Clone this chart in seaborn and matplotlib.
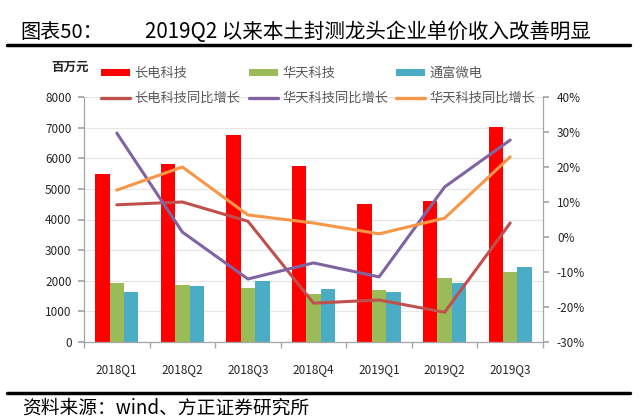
import numpy as np
import pandas as pd
import matplotlib
matplotlib.use("Agg")
import matplotlib.pyplot as plt
import seaborn as sns
from matplotlib.patches import Patch
from matplotlib.lines import Line2D

sns.set_theme(style="white")
plt.rcParams['font.family'] = ['Noto Sans CJK SC', 'DejaVu Sans']

quarters = ["2018Q1", "2018Q2", "2018Q3", "2018Q4", "2019Q1", "2019Q2", "2019Q3"]
cj_rev = [5500, 5820, 6770, 5760, 4500, 4620, 7030]
ht_rev = [1920, 1860, 1750, 1560, 1700, 2100, 2270]
tf_rev = [1640, 1830, 2000, 1730, 1640, 1920, 2450]
cj_yoy = [9.2, 10.0, 4.5, -18.9, -18.0, -21.5, 4.0]
ht_yoy = [29.7, 1.4, -12.0, -7.4, -11.4, 14.3, 27.7]
tf_yoy = [13.4, 20.0, 6.3, 4.0, 0.9, 5.4, 22.9]

bar_names = ["长电科技", "华天科技", "通富微电"]
line_names = ["长电科技同比增长", "华天科技同比增长", "华天科技同比增长"]
bar_colors = ["#FF0000", "#9BBB59", "#4BACC6"]
line_colors = ["#C0504D", "#8064A2", "#F79646"]

df_bar = pd.DataFrame({
    "quarter": quarters * 3,
    "value": cj_rev + ht_rev + tf_rev,
    "company": [bar_names[0]] * 7 + [bar_names[1]] * 7 + [bar_names[2]] * 7,
})

fig = plt.figure(figsize=(6.4, 4.19), dpi=100)
ax = fig.add_axes([84 / 640, 1 - 342 / 419, 459 / 640, 245 / 419])

sns.barplot(data=df_bar, x="quarter", y="value", hue="company", order=quarters,
            hue_order=bar_names, palette=bar_colors, width=0.66, gap=0,
            saturation=1, linewidth=0, ax=ax, legend=False)
ax.set_xlim(-0.5, 6.5)
ax.set_ylim(0, 8000)
ax.set_yticks(range(0, 8001, 1000))
ax.set_xlabel("")
ax.set_ylabel("")
ax.yaxis.grid(True, color="#E6E6E6", linewidth=0.8)
ax.set_axisbelow(True)

ax2 = ax.twinx()
xs = np.arange(len(quarters))
for vals, c in zip([cj_yoy, ht_yoy, tf_yoy], line_colors):
    sns.lineplot(x=xs, y=vals, color=c, linewidth=2.2, ax=ax2)
ax2.set_ylim(-30, 40)
ax2.set_yticks(range(-30, 41, 10))
ax2.set_yticklabels([f"{v}%" for v in range(-30, 41, 10)])
ax2.set_xlim(-0.5, 6.5)

for a in (ax, ax2):
    a.spines["top"].set_visible(False)
    for s in ["left", "right", "bottom"]:
        a.spines[s].set_color("#A6A6A6")
        a.spines[s].set_linewidth(0.9)
ax.spines["right"].set_visible(False)
ax2.spines["left"].set_visible(False)
ax2.spines["bottom"].set_visible(False)

ax.tick_params(axis="y", which="both", left=True, length=4, color="#A6A6A6",
               labelsize=8.5, labelcolor="#262626", pad=5)
ax2.tick_params(axis="y", right=True, length=4, color="#A6A6A6",
                labelsize=8.5, labelcolor="#262626", pad=6)
ax.set_xticks(np.arange(-0.5, 7, 1), minor=True)
ax.tick_params(axis="x", which="minor", bottom=True, length=4, color="#A6A6A6")
ax.tick_params(axis="x", which="major", bottom=False, labelsize=8.5,
               labelcolor="#262626", pad=9)

handles = []
labels = []
for i in range(3):
    handles.append(Patch(facecolor=bar_colors[i], edgecolor="none"))
    labels.append(bar_names[i])
    handles.append(Line2D([0], [0], color=line_colors[i], linewidth=2.4))
    labels.append(line_names[i])
leg = fig.legend(handles, labels, ncol=3, loc="upper left",
                 bbox_to_anchor=(101 / 640, 1 - 67 / 419), frameon=False,
                 fontsize=9.5, handlelength=2.2, handleheight=0.5,
                 handletextpad=0.35, columnspacing=0.6, labelspacing=0.9,
                 borderaxespad=0, borderpad=0)
for t in leg.get_texts():
    t.set_color("#595959")

fig.text(70 / 640, 1 - 67 / 419, "百万元", fontsize=9, fontweight="bold",
         ha="center", va="center", color="#262626")

fig.text(20 / 640, 1 - 32 / 419, "图表50：", fontsize=14.5, ha="left",
         va="center", color="#000000")
fig.text(145 / 640, 1 - 32 / 419, "2019Q2 以来本土封测龙头企业单价收入改善明显",
         fontsize=14.8, ha="left", va="center", color="#000000")
fig.add_artist(Line2D([7 / 640, 630 / 640], [1 - 45 / 419, 1 - 45 / 419],
                      color="black", linewidth=2.5, transform=fig.transFigure))
fig.add_artist(Line2D([7 / 640, 630 / 640], [1 - 393 / 419, 1 - 393 / 419],
                      color="black", linewidth=2.5, transform=fig.transFigure))
fig.text(22 / 640, 1 - 408 / 419, "资料来源：wind、方正证券研究所",
         fontsize=13.5, ha="left", va="center", color="#000000")

fig.savefig("out.png", dpi=100)
